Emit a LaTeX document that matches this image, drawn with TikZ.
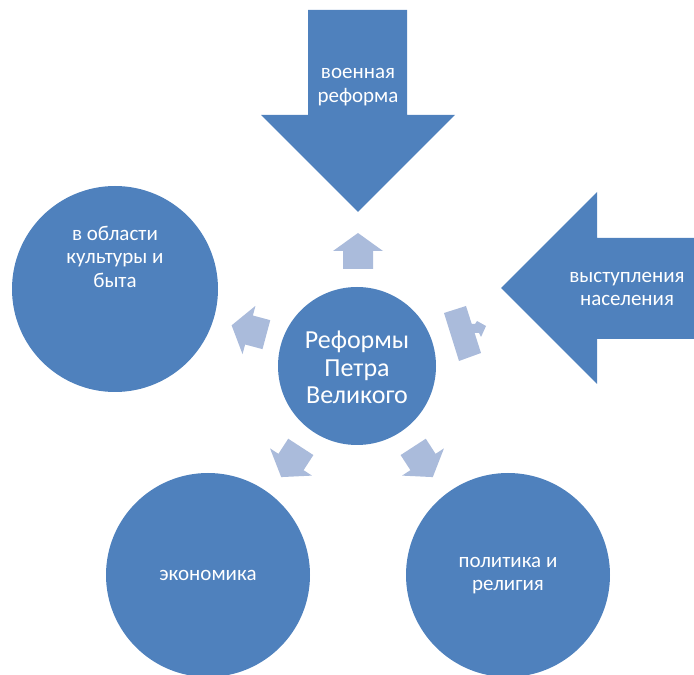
\documentclass[tikz,border=0pt]{standalone}
\usepackage{fontspec}
\setmainfont{Carlito}
\definecolor{darkblue}{RGB}{79,129,189}
\definecolor{lightblue}{RGB}{170,187,219}
\begin{document}
\begin{tikzpicture}[x=1pt,y=1pt,
  bigcircle/.style={circle,fill=darkblue,draw=none,inner sep=0pt},
  bigarrow/.style={fill=darkblue,draw=none},
  smallarrow/.style={fill=lightblue,draw=none},
  label/.style={text=white,align=center,font=\fontsize{21}{23.5}\selectfont},
  centerlabel/.style={text=white,align=center,font=\fontsize{26}{27.5}\selectfont}]
\useasboundingbox (0,0) rectangle (694,675);
\begin{scope}
\clip (0,0) rectangle (694,675);
% outer circles
\node[bigcircle,minimum size=206pt] (culture) at (115,386) {};
\node[bigcircle,minimum size=204pt] (econ) at (208,100) {};
\node[bigcircle,minimum size=204pt] (polit) at (508,100) {};
% central circle
\node[bigcircle,minimum size=158pt] (center) at (357,309) {};
% big down arrow
\fill[bigarrow] (308,665) -- (407,665) -- (407,560) -- (455,560) -- (358,463)
  -- (261,560) -- (308,560) -- cycle;
% big left arrow
\fill[bigarrow] (694,437) -- (597,437) -- (597,483) -- (501,387) -- (597,291)
  -- (597,336) -- (694,336) -- cycle;
\end{scope}
% texts
\node[label] (military) at (358,588) {военная\\реформа};
\node[label] (uprising) at (627,386) {выступления\\населения};
\node[label] (culturetext) at (115,418.5) {в области\\культуры и\\быта};
\node[label] (econtext) at (208,100) {экономика};
\node[label] (polittext) at (508,99.5) {политика и\\религия};
\node[centerlabel] (centertext) at (357,307.5) {Реформы\\Петра\\Великого};
% small arrows
\foreach \px/\py/\ang in {358/424/90, 249/345/165, 291/213/237, 423/213/-57}{
  \fill[smallarrow,shift={(\px,\py)},rotate=\ang]
    (18,0) -- (0,25) -- (0,15) -- (-18,15) -- (-18,-15) -- (0,-15) -- (0,-25) -- cycle;
}
% glitched right arrow
\fill[smallarrow] (444,362) -- (466,369) -- (481,322) -- (459,314) -- cycle;
\fill[smallarrow] (470,351) -- (475,351) -- (477,354) -- (486,349) -- (481,338)
  -- (479,342) -- (472,342) -- cycle;
\end{tikzpicture}
\end{document}
